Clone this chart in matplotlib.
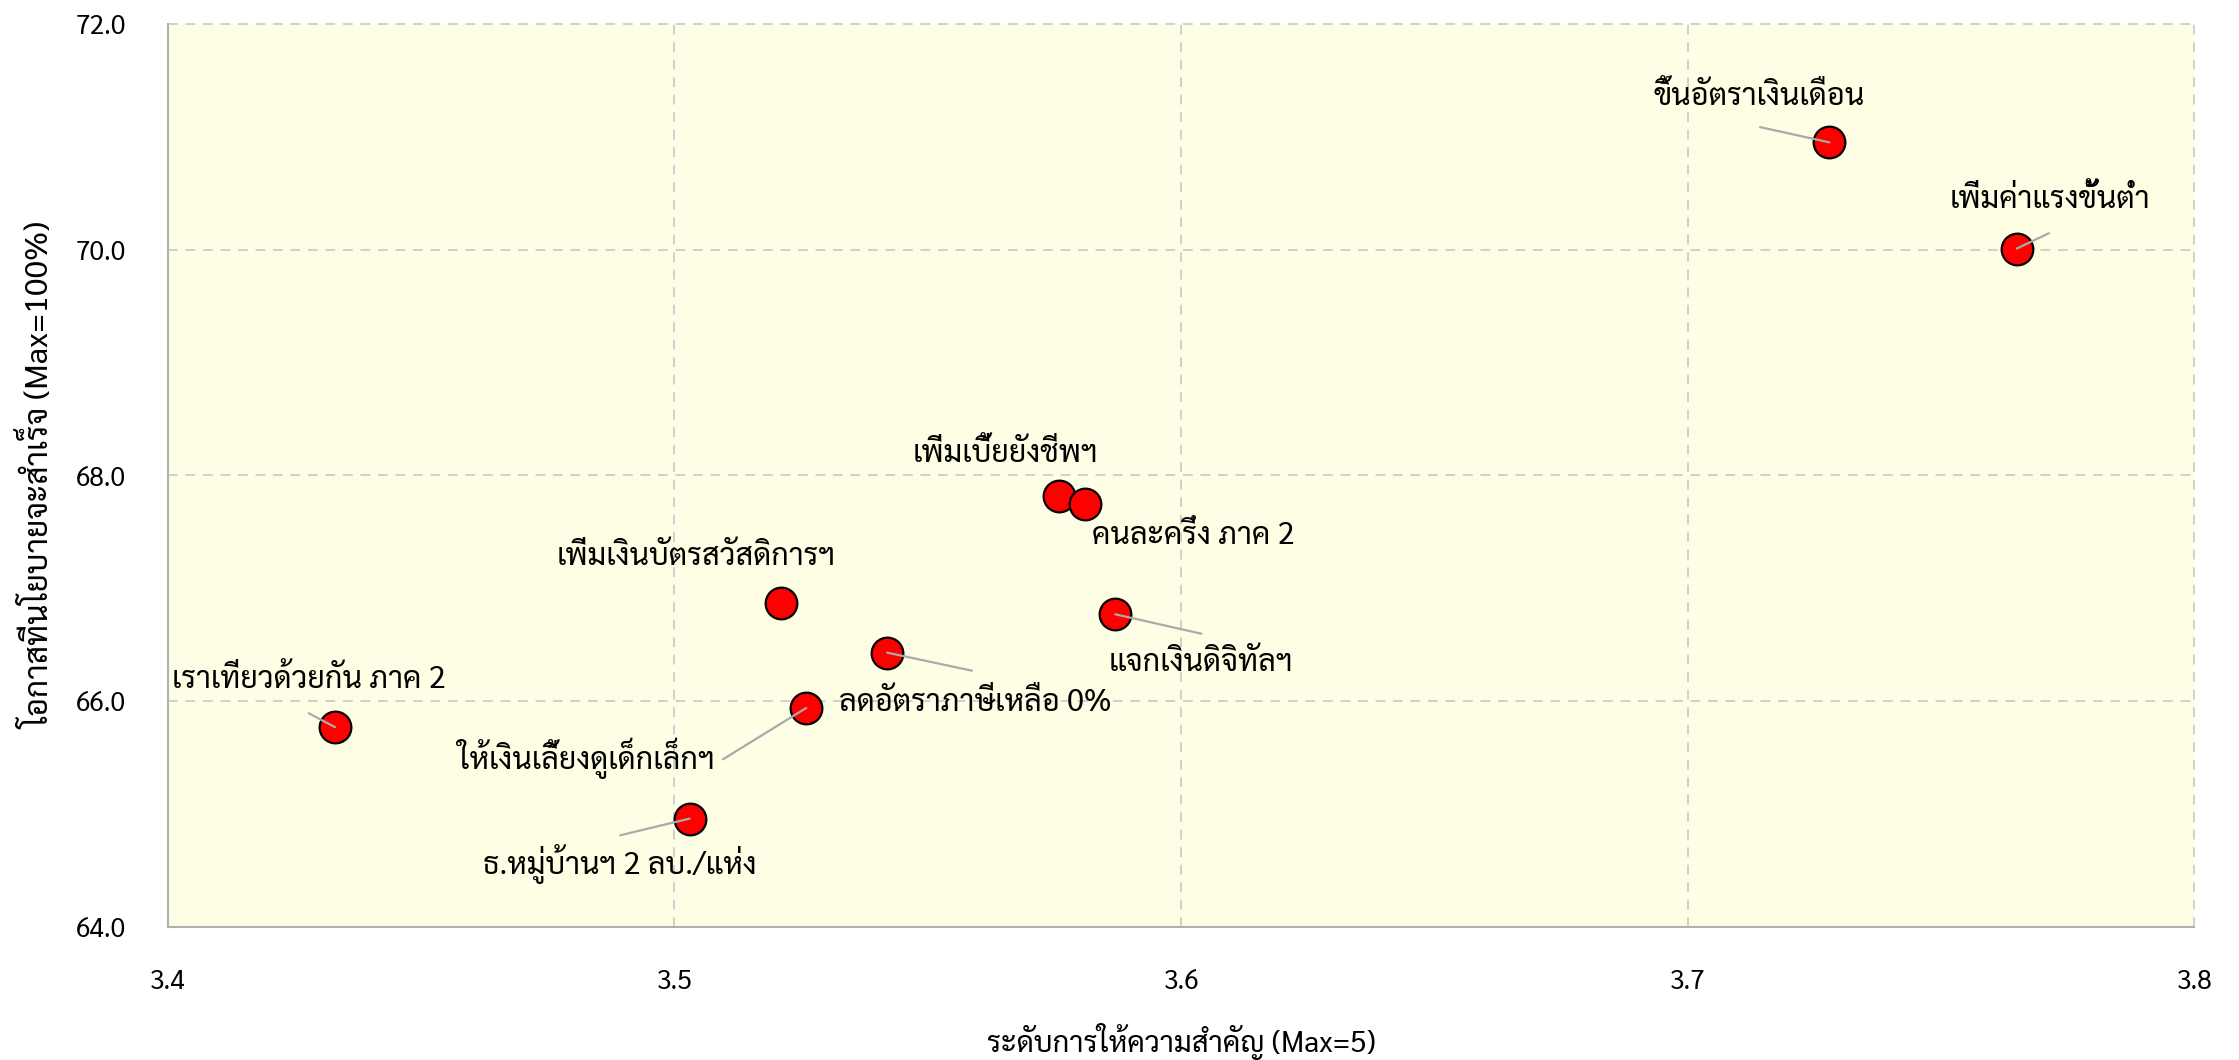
import matplotlib
matplotlib.use("Agg")
import matplotlib.pyplot as plt

# scatter: importance level vs chance of success
policies = ["ขึ้นอัตราเงินเดือน", "เพิ่มค่าแรงขั้นต่ำ", "เพิ่มเบี้ยยังชีพฯ", "คนละครึ่ง ภาค 2",
            "แจกเงินดิจิทัลฯ", "เพิ่มเงินบัตรสวัสดิการฯ", "ลดอัตราภาษีเหลือ 0%",
            "ให้เงินเลี้ยงดูเด็กเล็กฯ", "เราเที่ยวด้วยกัน ภาค 2", "ธ.หมู่บ้านฯ 2 ลบ./แห่ง"]
importance = [3.728, 3.765, 3.576, 3.581, 3.587, 3.521, 3.542, 3.526, 3.433, 3.503]
success = [70.95, 70.01, 67.82, 67.75, 66.77, 66.87, 66.43, 65.94, 65.77, 64.96]

x_ticks = [3.4, 3.5, 3.6, 3.7, 3.8]
y_ticks = [64.0, 66.0, 68.0, 70.0, 72.0]

# label placement (offset points from the point), connector end (None = no line)
label_off = [(-51, 33), (24, 35), (-39, 30), (78, -23), (62, -35), (-61, 33),
             (63, -36), (-158, -36), (-19, 34), (-50, -33)]
line_off = [(-50, 11), (23, 11), None, None, (62, -14), None,
            (61, -13), (-60, -37), (-19, 10), (-50, -12)]

thai = ["Sarabun", "DejaVu Sans"]
plt.rcParams["font.family"] = thai

fig = plt.figure(figsize=(22.39, 10.6), dpi=100)
ax = fig.add_axes([0.075, 0.1255, 0.905, 0.852])
ax.set_facecolor("#fefee4")

ax.scatter(importance, success, s=520, color="#ff0000", edgecolor="black",
           linewidth=1.6, zorder=3)

for i in range(len(policies)):
    if line_off[i] is not None:
        ax.annotate("", xy=(importance[i], success[i]), xytext=line_off[i],
                    textcoords="offset points",
                    arrowprops=dict(arrowstyle="-", color="#aaaaaa", lw=1.6,
                                    shrinkA=0, shrinkB=0), zorder=4)
    ax.annotate(policies[i], xy=(importance[i], success[i]), xytext=label_off[i],
                textcoords="offset points", ha="center", va="center",
                fontsize=22, color="black", zorder=5)

ax.set_xlim(3.4, 3.8)
ax.set_ylim(64, 72)
ax.set_xticks(x_ticks)
ax.set_yticks(y_ticks)
ax.set_xticklabels(["%.1f" % v for v in x_ticks])
ax.set_yticklabels(["%.1f" % v for v in y_ticks])
ax.tick_params(length=0, labelsize=19, colors="black")
ax.tick_params(axis="x", pad=30)
ax.tick_params(axis="y", pad=30)

ax.grid(True, linestyle=(0, (5, 4)), color="#cfcfcf", linewidth=1.4, clip_on=False)
ax.set_axisbelow(True)
for s in ["top", "right"]:
    ax.spines[s].set_visible(False)
for s in ["left", "bottom"]:
    ax.spines[s].set_color("#b0b0b0")
    ax.spines[s].set_linewidth(1.5)

ax.set_xlabel("ระดับการให้ความสำคัญ (Max=5)", fontsize=21, labelpad=20)
ax.set_ylabel("โอกาสที่นโยบายจะสำเร็จ (Max=100%)", fontsize=23, labelpad=14)

fig.savefig("out.png", dpi=100)
